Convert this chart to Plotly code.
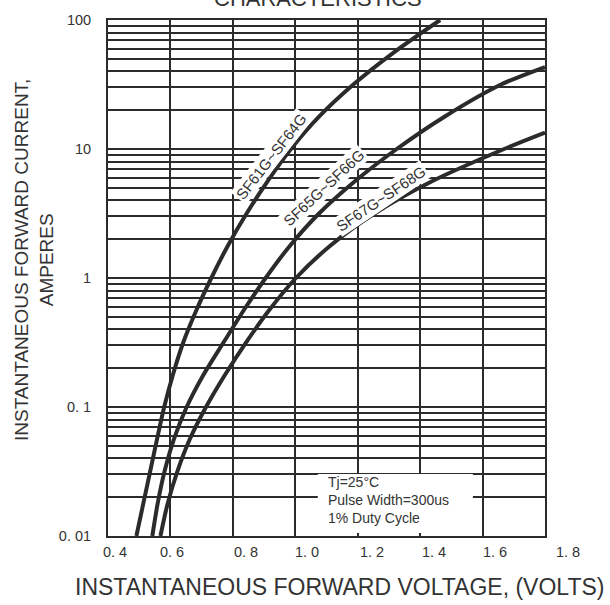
import plotly.graph_objects as go

# ---- data (forward voltage V, forward current A) ----
v_sf61_64 = [0.491, 0.513, 0.535, 0.557, 0.580, 0.608, 0.641, 0.683, 0.731,
             0.784, 0.844, 0.911, 0.986, 1.076, 1.186, 1.316, 1.464]
i_sf61_64 = [0.01, 0.0178, 0.0316, 0.0562, 0.1, 0.178, 0.316, 0.562, 1.0,
             1.78, 3.16, 5.62, 10.0, 17.8, 31.6, 56.2, 100]

v_sf65_66 = [0.542, 0.559, 0.581, 0.611, 0.652, 0.706, 0.770, 0.835, 0.905,
             0.983, 1.076, 1.191, 1.325, 1.478, 1.659, 1.8]
i_sf65_66 = [0.01, 0.0178, 0.0316, 0.0562, 0.1, 0.178, 0.316, 0.562, 1.0,
             1.78, 3.16, 5.62, 10.0, 17.8, 31.6, 43.2]

v_sf67_68 = [0.568, 0.591, 0.622, 0.662, 0.714, 0.775, 0.842, 0.916, 1.002,
             1.112, 1.254, 1.438, 1.669, 1.8]
i_sf67_68 = [0.01, 0.0178, 0.0316, 0.0562, 0.1, 0.178, 0.316, 0.562, 1.0,
             1.78, 3.16, 5.62, 10.0, 13.4]

series_names = ["SF61G~SF64G", "SF65G~SF66G", "SF67G~SF68G"]

x_ticks = [0.4, 0.6, 0.8, 1.0, 1.2, 1.4, 1.6, 1.8]
x_tick_labels = ["0. 4", "0. 6", "0. 8", "1. 0", "1. 2", "1. 4", "1. 6", "1. 8"]
y_decades = [0.01, 0.1, 1, 10, 100]
y_decade_labels = ["0. 01", "0. 1", "1", "10", "100"]

title_text = "CHARACTERISTICS"
x_title = "INSTANTANEOUS FORWARD VOLTAGE, (VOLTS)"
y_title = "INSTANTANEOUS FORWARD CURRENT,<br>AMPERES"
note_text = "Tj=25°C<br>Pulse Width=300us<br>1% Duty Cycle"

# ---- styling ----
INK = "#2b2b2b"
TXT = "#333333"
FONT = "Liberation Sans, Arial, sans-serif"

# gridlines at 1..9 of every decade, labels only on decades
y_grid_vals = []
y_grid_text = []
for d in y_decades[:-1]:
    for m in range(1, 10):
        y_grid_vals.append(round(d * m, 6))
        y_grid_text.append(y_decade_labels[y_decades.index(d)] if m == 1 else "")
y_grid_vals.append(y_decades[-1])
y_grid_text.append(y_decade_labels[-1])

fig = go.Figure()
for vx, iy, nm in [(v_sf61_64, i_sf61_64, series_names[0]),
                   (v_sf65_66, i_sf65_66, series_names[1]),
                   (v_sf67_68, i_sf67_68, series_names[2])]:
    fig.add_trace(go.Scatter(x=vx, y=iy, mode="lines", name=nm,
                             line=dict(color=INK, width=4, shape="spline", smoothing=0.8),
                             showlegend=False, hoverinfo="skip"))

fig.update_xaxes(range=[0.4, 1.8], tick0=0.4, dtick=0.2, showgrid=True,
                 gridcolor=INK, gridwidth=2, showline=True, linecolor=INK,
                 linewidth=2, mirror=True, ticks="", showticklabels=False,
                 zeroline=False)
fig.update_yaxes(type="log", range=[-2, 2], tickmode="array", tickvals=y_grid_vals,
                 ticktext=y_grid_text, showgrid=True, gridcolor=INK, gridwidth=2,
                 showline=True, linecolor=INK, linewidth=2, mirror=True, ticks="",
                 ticklabelstandoff=12, tickfont=dict(family=FONT, size=14.5, color=TXT),
                 zeroline=False)

ann = []
# x tick labels (offset to the right as in the reference)
x_label_shift = [7, 2, 13, 12, 14, 14, 12, 23]
for v, t, s in zip(x_ticks, x_tick_labels, x_label_shift):
    ann.append(dict(x=v, xref="x", y=0, yref="paper", yshift=-16, xshift=s,
                    text=t, showarrow=False, xanchor="center", yanchor="middle",
                    font=dict(family=FONT, size=14.5, color=TXT)))

# curve labels
curve_label_pos = [(0.922, 0.944, -52), (1.092, 0.700, -43), (1.275, 0.616, -34)]
for nm, (lx, ly, ang) in zip(series_names, curve_label_pos):
    ann.append(dict(x=lx, y=ly, xref="x", yref="y", text=nm, showarrow=False,
                    textangle=ang, bgcolor="white", borderpad=1,
                    font=dict(family=FONT, size=15, color=TXT)))

# white panel behind the test-condition note
fig.add_shape(type="rect", xref="x", yref="y domain", x0=1.072, x1=1.569,
              y0=0.006, y1=0.120, fillcolor="white", line=dict(width=0),
              layer="above")
ann.append(dict(x=1.098, y=-1.718, xref="x", yref="y", text=note_text, showarrow=False,
                align="left", xanchor="left", yanchor="middle",
                font=dict(family=FONT, size=14, color=TXT)))

# axis titles and chart title
ann.append(dict(x=0.529, y=-0.0992, xref="paper", yref="paper", text=x_title,
                showarrow=False, xanchor="center", yanchor="middle",
                font=dict(family=FONT, size=23, color=TXT)))
ann.append(dict(x=-0.168, y=0.534, xref="paper", yref="paper", text=y_title,
                showarrow=False, xanchor="center", yanchor="middle", textangle=-90,
                font=dict(family=FONT, size=19, color=TXT)))
ann.append(dict(x=0.48, y=1.0127, xref="paper", yref="paper", text=title_text,
                showarrow=False, xanchor="center", yanchor="bottom",
                font=dict(family=FONT, size=22, color=TXT)))

fig.update_layout(width=610, height=605, margin=dict(l=108, r=65, t=12, b=69),
                  paper_bgcolor="white", plot_bgcolor="white", annotations=ann,
                  showlegend=False)

fig.write_html("out.html", config={"displayModeBar": False},
               post_script="document.body.style.margin='0';")
